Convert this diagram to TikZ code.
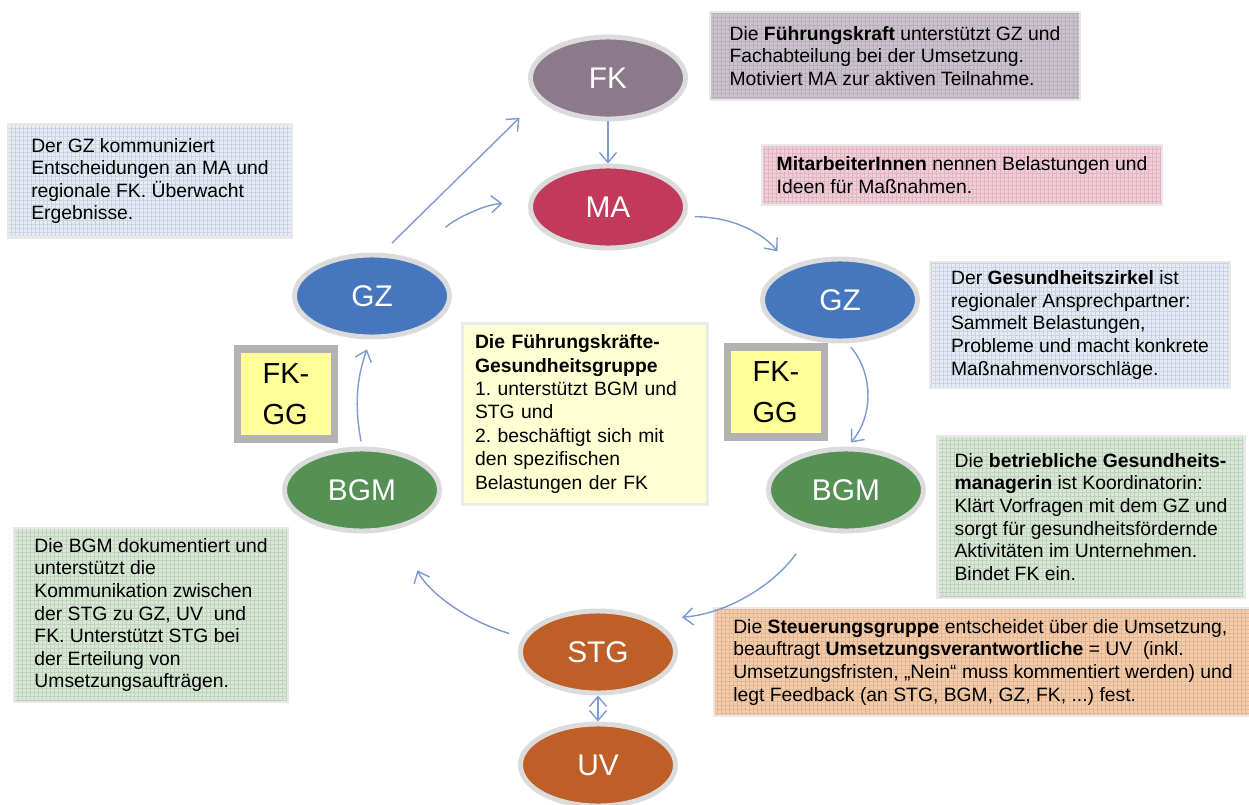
\documentclass[tikz,border=0pt]{standalone}
\usepackage{fontspec}
\setmainfont{Liberation Sans}
\usetikzlibrary{shapes.geometric,arrows.meta}
\definecolor{fkcol}{HTML}{8B7A8C}
\definecolor{macol}{HTML}{C23A5B}
\definecolor{gzcol}{HTML}{4677BE}
\definecolor{bgmcol}{HTML}{559155}
\definecolor{stgcol}{HTML}{BE5F28}
\definecolor{linkcol}{HTML}{7D9BD2}
\definecolor{fknote}{HTML}{CBC3CD}
\definecolor{gznote}{HTML}{E5ECF7}
\definecolor{manote}{HTML}{F4CCD8}
\definecolor{bgmnote}{HTML}{D8E9D6}
\definecolor{stgnote}{HTML}{F8CCA8}
\definecolor{fggnote}{HTML}{FFFFD4}
\definecolor{fggbox}{HTML}{FFFF99}
\newcommand{\notesize}{\fontsize{11}{12.9}\selectfont}
\newcommand{\bubsize}{\fontsize{17}{20}\selectfont}
\frenchspacing
\begin{document}
\begin{tikzpicture}[x=0.02cm,y=-0.02cm,>={Straight Barb[length=2mm,width=3.4mm]},
  bub/.style={ellipse,fill=#1,draw=black!14,line width=2.8pt,minimum width=3.1cm,minimum height=1.64cm,inner sep=0pt,text=white,font=\bubsize},
  note/.style={fill=#1,draw=black!9,line width=1.5pt,align=left,font=\notesize,inner sep=0pt,
    path picture={\draw[#1!90!black,line width=0.01cm,step=0.08cm] (path picture bounding box.south west) grid (path picture bounding box.north east);}},
  fkgg/.style={fill=fggbox,draw=black!30,line width=4pt,align=left,font=\fontsize{16.5}{23.7}\selectfont,minimum width=1.94cm,minimum height=1.8cm,inner sep=0pt},
  link/.style={linkcol,line width=.8pt,->}]
  \useasboundingbox (0,0) rectangle (1249,805);
  \fill[white] (0,0) rectangle (1249,805);
  \node[bub=fkcol] (fk) at (608,78) {FK};
  \node[bub=macol] (ma) at (608,207) {MA};
  \node[bub=gzcol] (gzl) at (372,296) {GZ};
  \node[bub=gzcol] (gzr) at (840,300) {GZ};
  \node[bub=bgmcol] (bgml) at (362,490) {BGM};
  \node[bub=bgmcol] (bgmr) at (846,490) {BGM};
  \node[bub=stgcol] (stg) at (598,652) {STG};
  \node[bub=stgcol] (uv) at (598,765) {UV};
  \node[fkgg] (fggl) at (286,394) {FK-\\GG};
  \node[fkgg] (fggr) at (776,392) {FK-\\GG};
  \node[note=fknote,minimum width=7.4cm,minimum height=1.76cm] (fknote) at (895,56) {Die \textbf{Führungskraft} unterstützt GZ und\\Fachabteilung bei der Umsetzung.\\Motiviert MA zur aktiven Teilnahme.};
  \node[note=gznote,minimum width=5.68cm,minimum height=2.26cm] (gzlnote) at (150,181) {Der GZ kommuniziert\\Entscheidungen an MA und\\regionale FK. Überwacht\\Ergebnisse.};
  \node[note=manote,minimum width=8cm,minimum height=1.2cm] (manote) at (962,175) {\textbf{MitarbeiterInnen} nennen Belastungen und\\Ideen für Maßnahmen.};
  \node[note=gznote,minimum width=6cm,minimum height=2.52cm] (gzrnote) at (1080,325) {Der \textbf{Gesundheitszirkel} ist\\regionaler Ansprechpartner:\\Sammelt Belastungen,\\Probleme und macht konkrete\\Maßnahmenvorschläge.};
  \node[note=bgmnote,minimum width=6.14cm,minimum height=3.24cm] (bgmrnote) at (1091,517) {Die \textbf{betriebliche Gesundheits-}\\\textbf{managerin} ist Koordinatorin:\\Klärt Vorfragen mit dem GZ und\\sorgt für gesundheitsfördernde\\Aktivitäten im Unternehmen.\\Bindet FK ein.};
  \node[note=bgmnote,minimum width=5.48cm,minimum height=3.48cm] (bgmlnote) at (151,615) {Die BGM dokumentiert und\\unterstützt die\\Kommunikation zwischen\\der STG zu GZ, UV\ \ und\\FK. Unterstützt STG bei\\der Erteilung von\\Umsetzungsaufträgen.};
  \node[note=stgnote,minimum width=10.76cm,minimum height=2.16cm] (stgnote) at (983,662) {Die \textbf{Steuerungsgruppe} entscheidet über die Umsetzung,\\beauftragt \textbf{Umsetzungsverantwortliche} = UV\ \ (inkl.\\Umsetzungsfristen, „Nein“ muss kommentiert werden) und\\legt Feedback (an STG, BGM, GZ, FK, ...) fest.};
  \node[fill=fggnote,draw=black!8,line width=1.5pt,align=left,font=\fontsize{11}{13.3}\selectfont,inner sep=0pt,text width=4.4cm,minimum width=4.9cm,minimum height=3.62cm] (fgg) at (585,414) {\textbf{Die Führungskräfte-}\\\textbf{Gesundheitsgruppe}\\1. unterstützt BGM und\\STG und\\2. beschäftigt sich mit\\den spezifischen\\Belastungen der FK};
  \draw[link,shorten <=8pt,shorten >=15pt] (gzl.77) -- (fk.197);
  \draw[link,shorten <=24pt,shorten >=15pt] (gzl.35) to[bend left=25] (ma.176);
  \draw[link] (fk.south) -- (ma.north);
  \draw[link,shorten <=5pt,shorten >=11pt] (ma.-7) to[bend left=25] (gzr.146);
  \draw[link,shorten <=3pt,shorten >=3pt] (gzr.-80) to[bend left=40] (bgmr.88);
  \draw[link,shorten <=17pt,shorten >=18pt] (bgmr.231) to[bend left=25] (stg.32);
  \draw[link,shorten <=8pt,shorten >=26pt] (stg.169) to[bend left=25] (bgml.-46);
  \draw[link,shorten <=3pt,shorten >=6pt] (bgml.north) to[bend left=15] (gzl.-92);
  \draw[link,<->] (stg.south) -- (uv.north);
\end{tikzpicture}
\end{document}
